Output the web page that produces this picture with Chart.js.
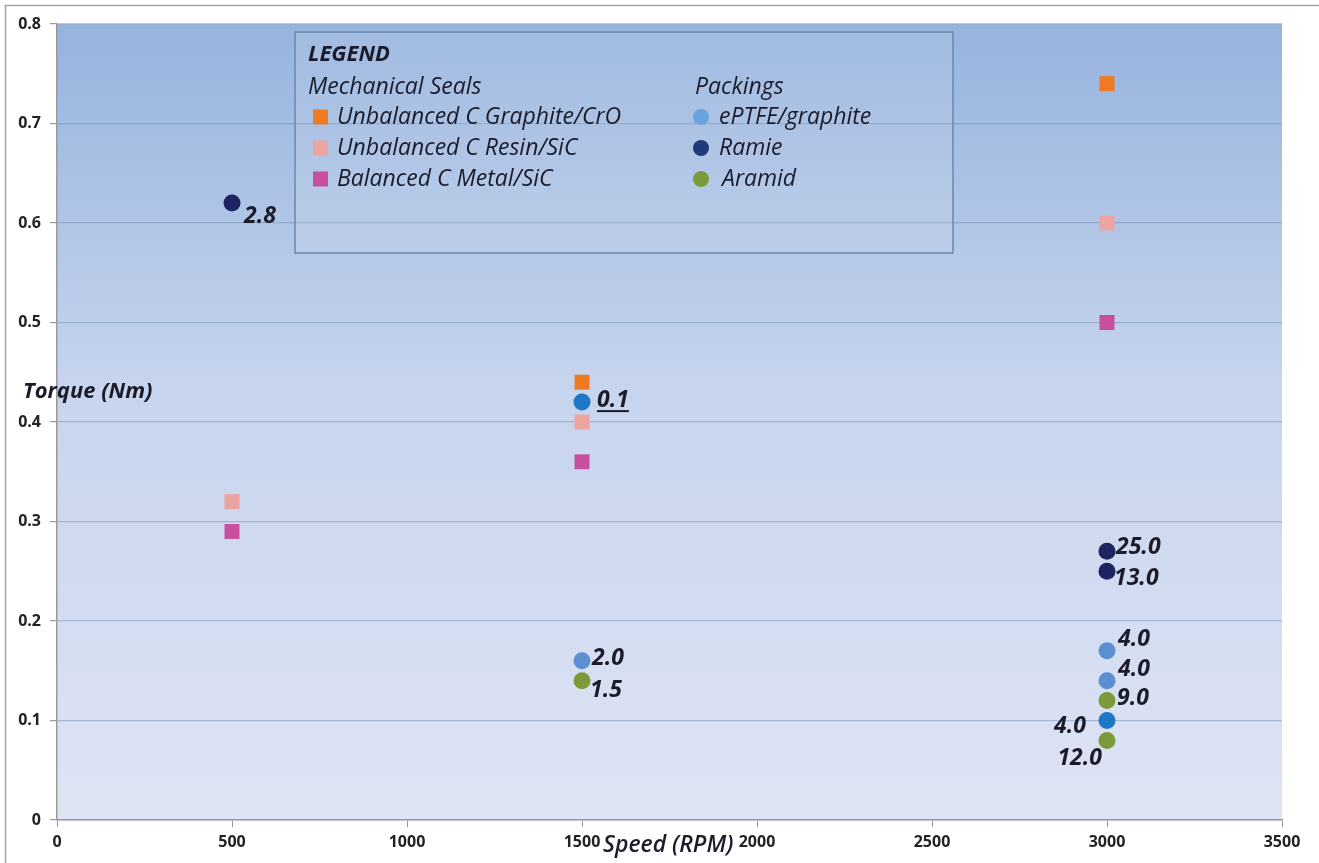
<!DOCTYPE html>
<html>
<head>
<meta charset="utf-8">
<title>Torque vs Speed</title>
<script src="https://cdn.jsdelivr.net/npm/chart.js@4.4.1/dist/chart.umd.min.js"></script>
<style>
  html, body { margin: 0; padding: 0; background: #ffffff; }
  #wrap { width: 1319px; height: 863px; }
</style>
</head>
<body>
<div id="wrap"><canvas id="chart" width="1319" height="863"></canvas></div>
<script>
// Axis ticks
const speedTicks = [0, 500, 1000, 1500, 2000, 2500, 3000, 3500];
const torqueTicks = [0, 0.1, 0.2, 0.3, 0.4, 0.5, 0.6, 0.7, 0.8];

// Mechanical seals
const graphiteCroSpeed = [1500, 3000];
const graphiteCroTorque = [0.44, 0.74];

const resinSicSpeed = [500, 1500, 3000];
const resinSicTorque = [0.32, 0.40, 0.60];

const metalSicSpeed = [500, 1500, 3000];
const metalSicTorque = [0.29, 0.36, 0.50];

// Packings (labels give the value printed beside each point)
const ptfeSpeed = [1500, 3000, 3000];
const ptfeTorque = [0.16, 0.17, 0.14];
const ptfeLabels = ['2.0', '4.0', '4.0'];

const ptfeAltSpeed = [1500, 3000];
const ptfeAltTorque = [0.42, 0.10];
const ptfeAltLabels = ['0.1', '4.0'];

const ramieSpeed = [500, 3000, 3000];
const ramieTorque = [0.62, 0.27, 0.25];
const ramieLabels = ['2.8', '25.0', '13.0'];

const aramidSpeed = [1500, 3000, 3000];
const aramidTorque = [0.14, 0.12, 0.08];
const aramidLabels = ['1.5', '9.0', '12.0'];

// Where each value label sits relative to its point
const ptfePlace = ['e', 'ne', 'ne'];
const ptfeAltPlace = ['eu', 'w'];
const ramiePlace = ['se2', 'e2', 'se3'];
const aramidPlace = ['se', 'e', 'sw'];

const COLORS = {
  graphiteCro: '#f07a22',
  resinSic: '#eba4a0',
  metalSic: '#c84f9e',
  ptfe: '#5c8fd0',
  ptfeAlt: '#1f77c8',
  ramie: '#1c255f',
  aramid: '#7b9b3a',
  legendRamie: '#1f3a78',
  legendPtfe: '#6aa2de'
};

function points(xs, ys) { return xs.map((x, i) => ({ x: x, y: ys[i] })); }

function squareSet(label, xs, ys, color) {
  return { label, data: points(xs, ys), pointStyle: 'rect', pointRadius: 10.6,
    pointHoverRadius: 10.6, backgroundColor: color, borderColor: color, borderWidth: 0 };
}
function circleSet(label, xs, ys, color, labels, place) {
  return { label, data: points(xs, ys), pointStyle: 'circle', pointRadius: 8.5,
    pointHoverRadius: 8.5, backgroundColor: color, borderColor: color, borderWidth: 0,
    valueLabels: labels, valuePlace: place };
}

const PLACE = {
  e:   { dx: 10, dy: -2, align: 'left' },
  e2:  { dx: 9, dy: -4, align: 'left' },
  ne:  { dx: 11, dy: -11, align: 'left' },
  se:  { dx: 8, dy: 10, align: 'left' },
  se2: { dx: 12, dy: 13, align: 'left' },
  se3: { dx: 7, dy: 7, align: 'left' },
  eu:  { dx: 15, dy: -2, align: 'left', underline: true },
  w:   { dx: -21, dy: 6, align: 'right' },
  sw:  { dx: -5, dy: 18, align: 'right' }
};

const FONT = '"Open Sans", "Noto Sans", "DejaVu Sans", sans-serif';

const backdrop = {
  id: 'backdrop',
  beforeDraw(chart) {
    const { ctx, chartArea: a } = chart;
    ctx.save();
    // outer frame lines
    ctx.strokeStyle = '#a4a4a4';
    ctx.lineWidth = 1.5;
    ctx.beginPath();
    ctx.moveTo(5.5, 863); ctx.lineTo(5.5, 5.5); ctx.lineTo(1319, 5.5);
    ctx.stroke();
    // plot area gradient
    const g = ctx.createLinearGradient(0, a.top, 0, a.bottom);
    g.addColorStop(0, '#96b3de');
    g.addColorStop(0.45, '#c6d4ed');
    g.addColorStop(1, '#dfe4f4');
    ctx.fillStyle = g;
    ctx.fillRect(a.left, a.top, a.right - a.left, a.bottom - a.top);
    ctx.restore();
  }
};

const overlay = {
  id: 'overlay',
  afterDatasetsDraw(chart) {
    const ctx = chart.ctx;
    ctx.save();
    ctx.fillStyle = '#1b1b2a';
    ctx.strokeStyle = '#1b1b2a';
    ctx.font = 'italic bold 23px ' + FONT;
    ctx.textBaseline = 'middle';
    chart.data.datasets.forEach((ds, di) => {
      if (!ds.valueLabels) return;
      const meta = chart.getDatasetMeta(di);
      meta.data.forEach((pt, i) => {
        const p = PLACE[ds.valuePlace[i]];
        const txt = ds.valueLabels[i];
        ctx.textAlign = p.align;
        const x = pt.x + p.dx, y = pt.y + p.dy;
        ctx.fillText(txt, x, y);
        if (p.underline) {
          const w = ctx.measureText(txt).width;
          ctx.lineWidth = 2;
          ctx.beginPath();
          ctx.moveTo(x, y + 11); ctx.lineTo(x + w, y + 11);
          ctx.stroke();
        }
      });
    });
    ctx.restore();
  },
  afterDraw(chart) {
    const ctx = chart.ctx;
    ctx.save();
    // axis titles
    ctx.fillStyle = '#1b1b2a';
    ctx.textBaseline = 'middle';
    ctx.textAlign = 'left';
    ctx.font = 'italic bold 22px ' + FONT;
    ctx.fillText('Torque (Nm)', 23, 392);
    ctx.font = 'italic 600 23px ' + FONT;
    ctx.fillText('Speed (RPM)', 603, 845);

    // legend box
    const bx = 295, by = 32, bw = 658, bh = 221;
    ctx.fillStyle = 'rgba(255,255,255,0.10)';
    ctx.fillRect(bx, by, bw, bh);
    ctx.strokeStyle = '#6b86ab';
    ctx.lineWidth = 1.5;
    ctx.strokeRect(bx, by, bw, bh);

    ctx.fillStyle = '#1b1b2a';
    ctx.font = 'italic bold 22px ' + FONT;
    ctx.fillText('LEGEND', 308, 55);
    ctx.font = 'italic 500 23px ' + FONT;
    ctx.fillText('Mechanical Seals', 308, 87);
    ctx.fillText('Packings', 695, 87);

    const rows = [117, 148, 179];
    const seals = [
      ['Unbalanced C Graphite/CrO', COLORS.graphiteCro],
      ['Unbalanced C Resin/SiC', COLORS.resinSic],
      ['Balanced C Metal/SiC', COLORS.metalSic]
    ];
    const packs = [
      ['ePTFE/graphite', COLORS.legendPtfe, 719],
      ['Ramie', COLORS.legendRamie, 719],
      ['Aramid', COLORS.aramid, 722]
    ];
    seals.forEach((s, i) => {
      ctx.fillStyle = s[1];
      ctx.fillRect(313, rows[i] - 7.5, 15, 15);
      ctx.fillStyle = '#1b1b2a';
      ctx.fillText(s[0], 337, rows[i]);
    });
    packs.forEach((p, i) => {
      ctx.fillStyle = p[1];
      ctx.beginPath();
      ctx.arc(701, rows[i], 8, 0, Math.PI * 2);
      ctx.fill();
      ctx.fillStyle = '#1b1b2a';
      ctx.fillText(p[0], p[2], rows[i]);
    });
    ctx.restore();
  }
};

new Chart(document.getElementById('chart'), {
  type: 'scatter',
  data: {
    datasets: [
      squareSet('Unbalanced C Graphite/CrO', graphiteCroSpeed, graphiteCroTorque, COLORS.graphiteCro),
      squareSet('Unbalanced C Resin/SiC', resinSicSpeed, resinSicTorque, COLORS.resinSic),
      squareSet('Balanced C Metal/SiC', metalSicSpeed, metalSicTorque, COLORS.metalSic),
      circleSet('ePTFE/graphite', ptfeSpeed, ptfeTorque, COLORS.ptfe, ptfeLabels, ptfePlace),
      circleSet('ePTFE/graphite (alt)', ptfeAltSpeed, ptfeAltTorque, COLORS.ptfeAlt, ptfeAltLabels, ptfeAltPlace),
      circleSet('Ramie', ramieSpeed, ramieTorque, COLORS.ramie, ramieLabels, ramiePlace),
      circleSet('Aramid', aramidSpeed, aramidTorque, COLORS.aramid, aramidLabels, aramidPlace)
    ]
  },
  options: {
    responsive: false,
    devicePixelRatio: 1,
    animation: false,
    layout: { padding: { top: 24, right: 37, left: 0, bottom: 0 } },
    plugins: { legend: { display: false }, tooltip: { enabled: false } },
    scales: {
      x: {
        type: 'linear',
        min: speedTicks[0],
        max: speedTicks[speedTicks.length - 1],
        afterBuildTicks: s => { s.ticks = speedTicks.map(v => ({ value: v })); },
        afterFit: s => { s.height = 43; },
        ticks: { color: '#222', padding: 6, font: { family: FONT, size: 16, weight: 'bold' },
          callback: v => String(v) },
        grid: { drawOnChartArea: false, drawTicks: true, tickLength: 7, color: '#9a9a9a', lineWidth: 1 },
        border: { color: '#9a9a9a', width: 1.5 }
      },
      y: {
        type: 'linear',
        min: torqueTicks[0],
        max: torqueTicks[torqueTicks.length - 1],
        afterBuildTicks: s => { s.ticks = torqueTicks.map(v => ({ value: v })); },
        afterFit: s => { s.width = 57; },
        ticks: {
          color: '#222', padding: 9, font: { family: FONT, size: 16, weight: 'bold' },
          callback: v => String(Number(v.toFixed(1)))
        },
        grid: { color: 'rgba(110,135,180,0.45)', lineWidth: 1.2, drawTicks: true, tickLength: 7, tickColor: '#9a9a9a' },
        border: { color: '#9a9a9a', width: 1.5 }
      }
    }
  },
  plugins: [backdrop, overlay]
});
</script>
</body>
</html>
